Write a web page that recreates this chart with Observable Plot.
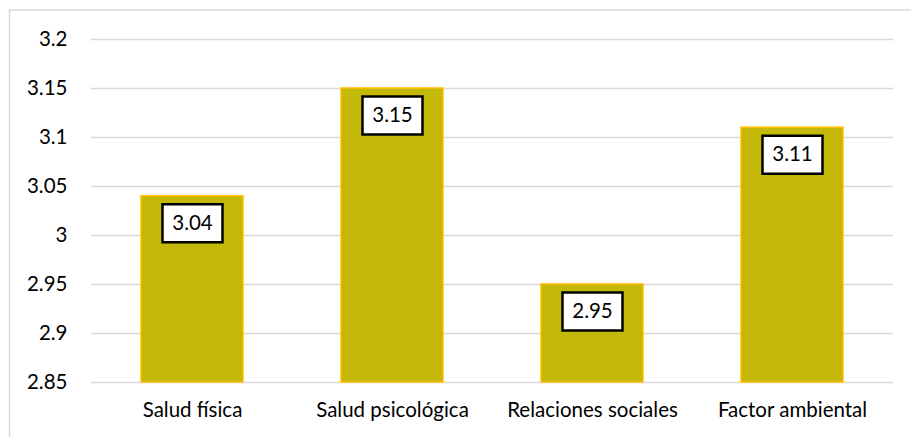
<!DOCTYPE html>
<html>
<head>
<meta charset="utf-8">
<script src="https://cdn.jsdelivr.net/npm/d3@7"></script>
<script src="https://cdn.jsdelivr.net/npm/@observablehq/plot@0.6"></script>
<style>
  html, body { margin: 0; padding: 0; background: #fff; }
  svg { overflow: visible; }
</style>
</head>
<body>
<div id="chart"></div>
<script>
const categories = ["Salud física", "Salud psicológica", "Relaciones sociales", "Factor ambiental"];
const values = [3.04, 3.15, 2.95, 3.11];
const yTicks = [2.85, 2.9, 2.95, 3, 3.05, 3.1, 3.15, 3.2];
const yMin = 2.85, yMax = 3.2;

const data = categories.map((c, i) => ({category: c, value: values[i]}));

const boxSymbol = {
  draw(context, size) {
    context.moveTo(-30, -19);
    context.lineTo(30, -19);
    context.lineTo(30, 19);
    context.lineTo(-30, 19);
    context.closePath();
  }
};

const font = "Lato, 'Open Sans', sans-serif";

const chart = Plot.plot({
  width: 911,
  height: 437,
  marginLeft: 91,
  marginRight: 18,
  marginTop: 39,
  marginBottom: 55,
  style: {fontFamily: font, fontSize: "20px", color: "#000", background: "#fff"},
  x: {domain: categories, paddingInner: 0.49, paddingOuter: 0.245, label: null},
  y: {domain: [yMin, yMax], label: null},
  marks: [
    Plot.frame({stroke: "#d9d9d9", strokeWidth: 1.5, insetTop: -29.5, insetLeft: -82, insetRight: -40, insetBottom: -80}),
    Plot.ruleY(yTicks, {stroke: "#d9d9d9", strokeWidth: 1.5}),
    Plot.barY(data, {x: "category", y1: yMin, y2: "value", fill: "#c4b909", stroke: "#ffc000", strokeWidth: 1.5}),
    Plot.dot(data, {x: "category", y: "value", symbol: boxSymbol, r: 10, fill: "#fff", stroke: "#000", strokeWidth: 2.5, dy: 27}),
    Plot.text(data, {x: "category", y: "value", text: d => d.value.toFixed(2), dy: 27, fontSize: 20.5, fill: "#000", lineAnchor: "middle"}),
    Plot.axisY(yTicks, {tickSize: 0, tickPadding: 24, tickFormat: d => String(+d.toFixed(2)), fontSize: 20.5, label: null}),
    Plot.axisX({tickSize: 0, tickPadding: 20, fontSize: 20.5, label: null})
  ]
});

document.getElementById("chart").appendChild(chart);
</script>
</body>
</html>
